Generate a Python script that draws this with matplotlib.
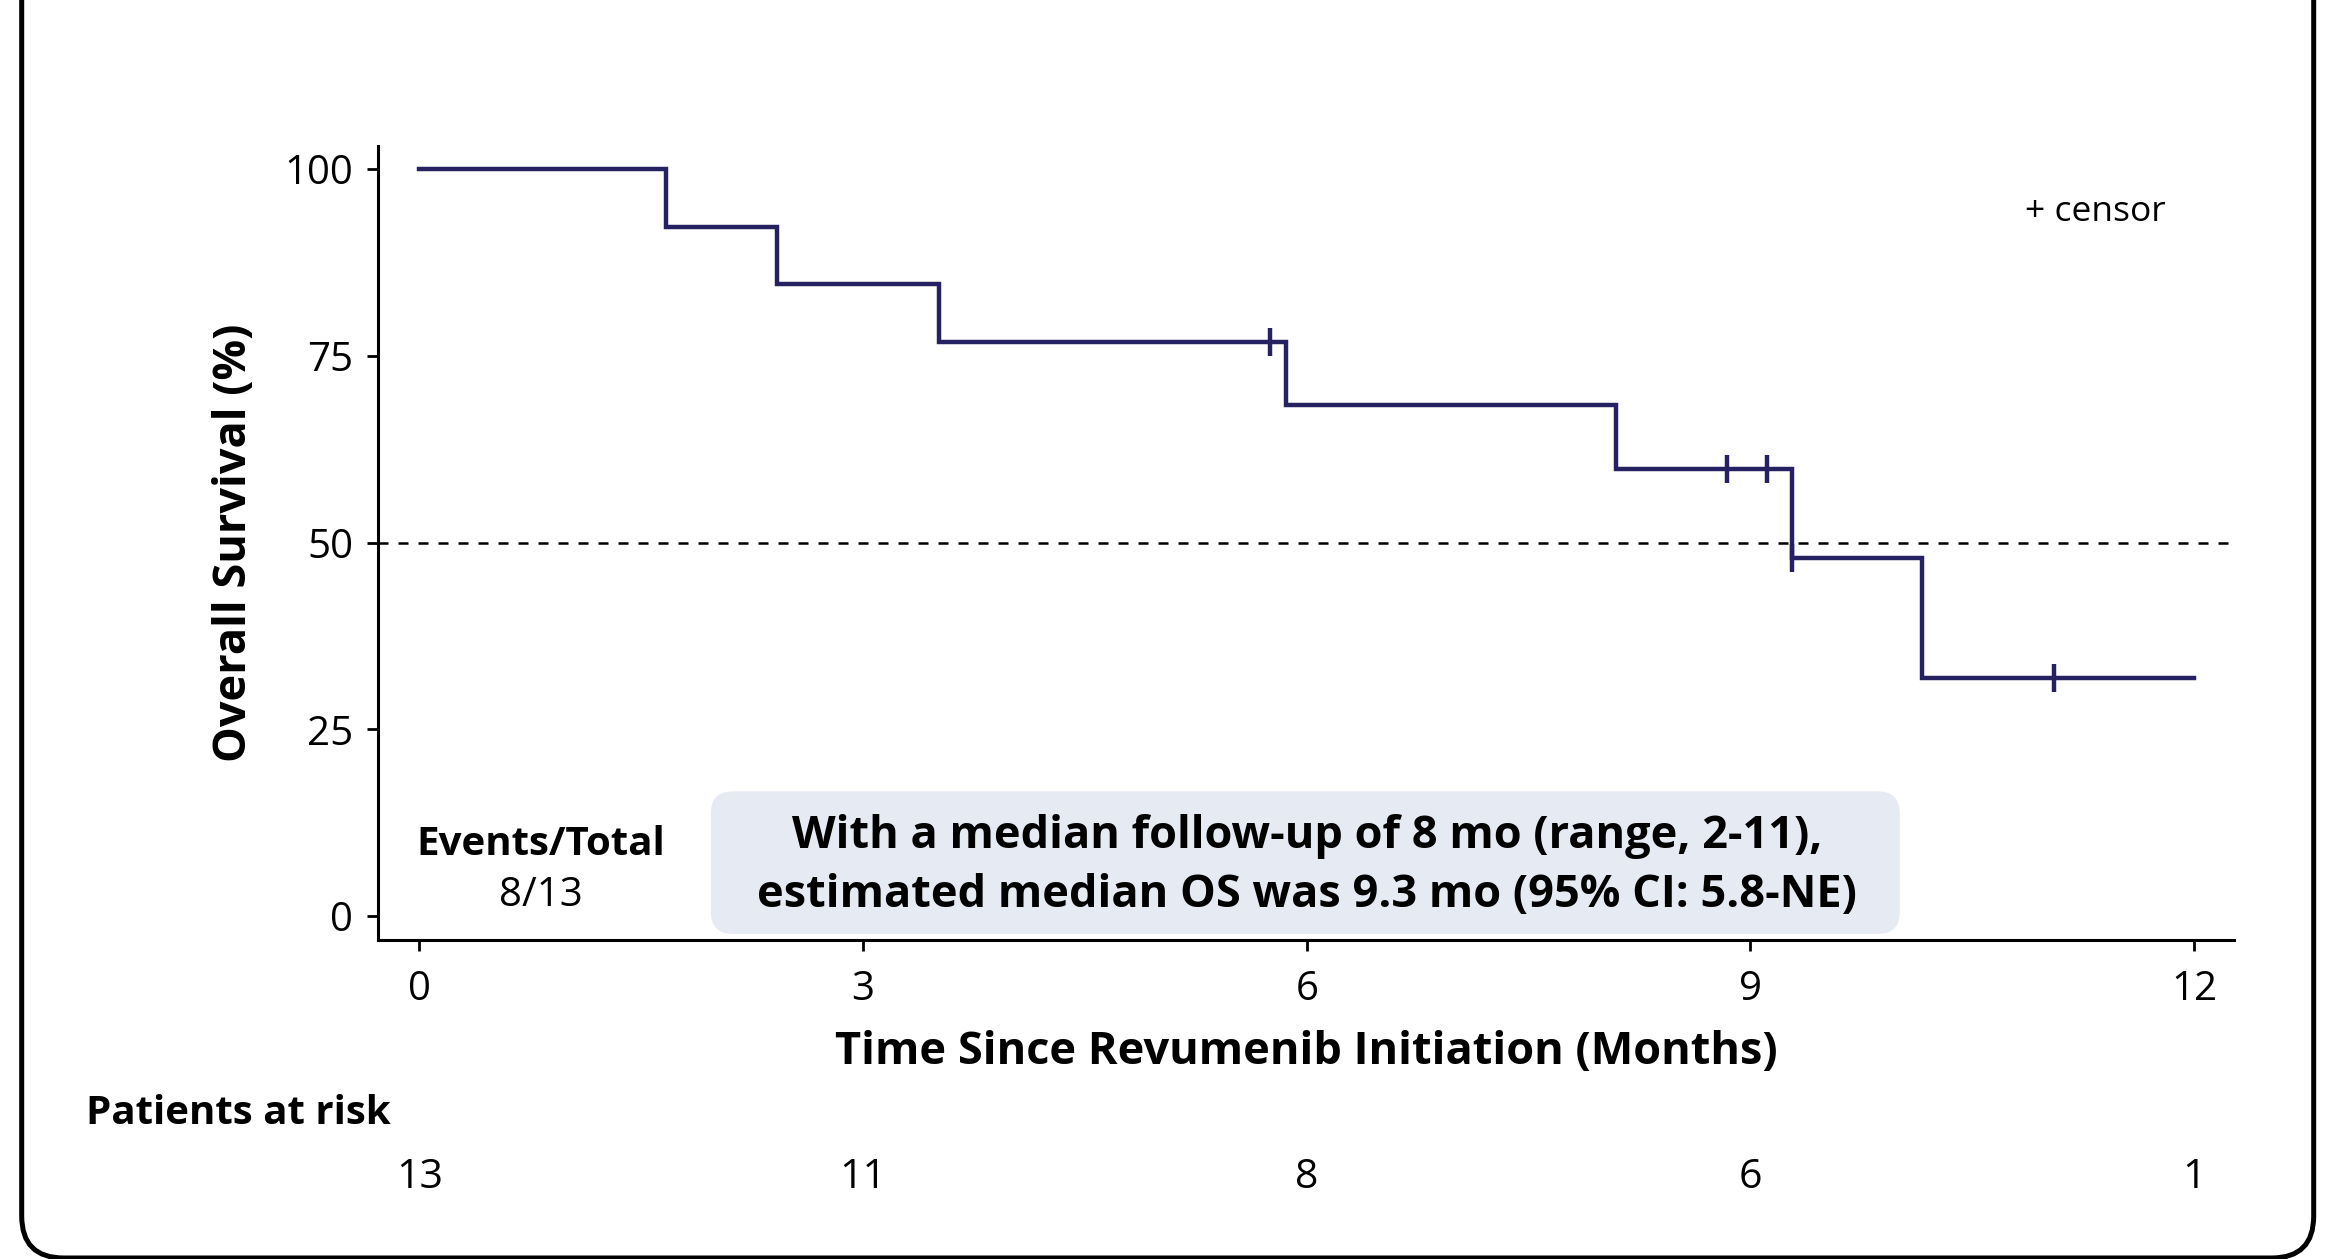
import numpy as np
import matplotlib
matplotlib.use('Agg')
import matplotlib.pyplot as plt
from matplotlib.patches import FancyBboxPatch

plt.rcParams['font.family'] = ['Open Sans', 'DejaVu Sans']

#------data------
step_times = [0, 1.67, 2.42, 3.51, 5.86, 8.09, 9.28, 10.16]
step_surv = [100, 92.3, 84.6, 76.9, 68.4, 59.8, 47.9, 31.9]
end_time = 12.0

censor_times = [5.75, 8.84, 9.11, 9.28, 11.05]
censor_surv = [76.9, 59.8, 59.8, 47.9, 31.9]

risk_times = [0, 3, 6, 9, 12]
risk_counts = [13, 11, 8, 6, 1]

y_ticks = [0, 25, 50, 75, 100]
x_ticks = [0, 3, 6, 9, 12]

line_col = '#262262'

fig = plt.figure(figsize=(23.31, 12.59), dpi=100)
ax = fig.add_axes([0.1622, 0.2534, 0.7962, 0.6306])

#KM step curve
xs = step_times + [end_time]
ys = step_surv + [step_surv[-1]]
ax.step(xs, ys, where='post', color=line_col, lw=3.2, solid_joinstyle='miter')
ax.plot(censor_times, censor_surv, ls='none', marker='|', ms=20, mew=3.2,
        color=line_col)

#median reference line
ax.axhline(50, color='black', lw=1.8, ls=(0, (4, 4)), zorder=1)

ax.set_xlim(-0.28, 12.27)
ax.set_ylim(-3.2, 103.1)
ax.set_xticks(x_ticks)
ax.set_yticks(y_ticks)
ax.tick_params(labelsize=29, width=2, length=8, direction='out', pad=10)
ax.tick_params(axis='x', pad=13)
for s in ['top', 'right']:
    ax.spines[s].set_visible(False)
for s in ['left', 'bottom']:
    ax.spines[s].set_linewidth(2.2)

ax.set_xlabel('Time Since Revumenib Initiation (Months)', fontsize=32.5,
              fontweight='bold', labelpad=15)
ax.set_ylabel('Overall Survival (%)', fontsize=32.5, fontweight='bold',
              labelpad=20)

ax.text(11.33, 94.3, '+ censor', fontsize=25.5, ha='center', va='center')

#events box and summary
ax.text(0.82, 9.6, 'Events/Total', fontsize=29, fontweight='bold',
        ha='center', va='center')
ax.text(0.82, 2.7, '8/13', fontsize=29, ha='center', va='center')

box = FancyBboxPatch((1.97, -2.4), 8.04, 19.1,
                     boxstyle='round,pad=0,rounding_size=0.15',
                     mutation_aspect=19.7,
                     fc='#E6EAF3', ec='none', zorder=0)
ax.add_patch(box)
ax.text(6.0, 10.6, 'With a median follow-up of 8 mo (range, 2-11),',
        fontsize=32.5, fontweight='bold', ha='center', va='center')
ax.text(6.0, 2.8, 'estimated median OS was 9.3 mo (95% CI: 5.8-NE)',
        fontsize=32.5, fontweight='bold', ha='center', va='center')

#patients at risk table
fig.text(86 / 2331, 1 - 1114 / 1259, 'Patients at risk', fontsize=29,
         fontweight='bold', ha='left', va='center')
for t, n in zip(risk_times, risk_counts):
    xf = fig.transFigure.inverted().transform(ax.transData.transform((t, 0)))[0]
    fig.text(xf, 1 - 1178 / 1259, str(n), fontsize=29.5, ha='center',
             va='center')

#rounded frame round the whole panel
frame = FancyBboxPatch((0.217, 0.01), 22.92, 14.0,
                       boxstyle='round,pad=0,rounding_size=0.42',
                       transform=fig.dpi_scale_trans, fc='none', ec='black',
                       lw=3.6, clip_on=False)
fig.patches.append(frame)

fig.savefig('out.png', dpi=100)
